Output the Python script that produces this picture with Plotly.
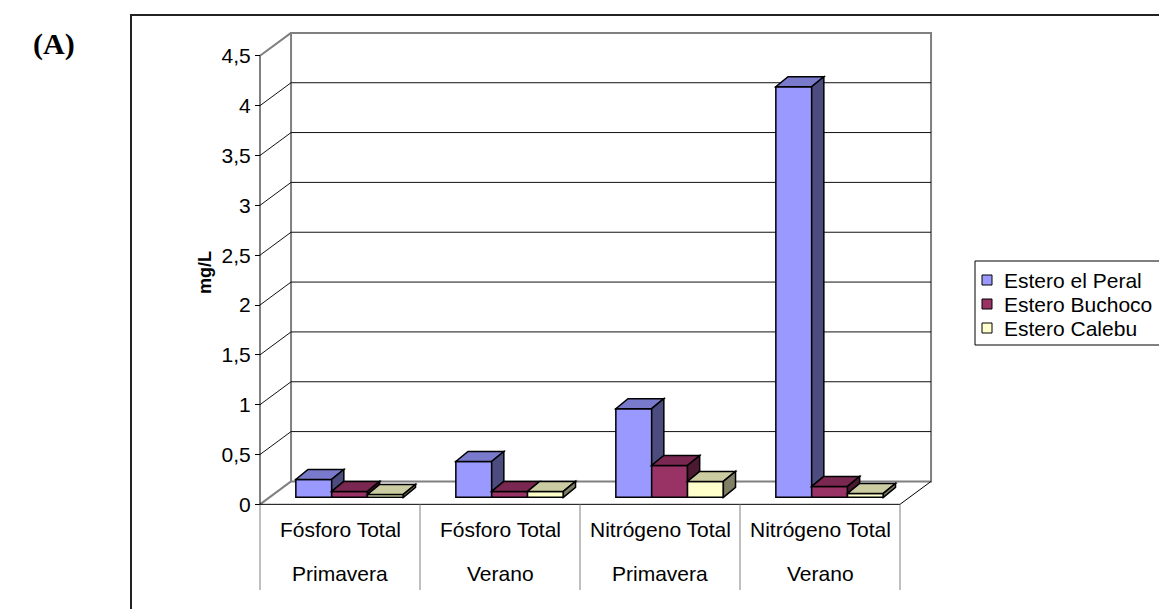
import plotly.graph_objects as go

# ---- data -------------------------------------------------------------
nutrients = ["Fósforo Total", "Fósforo Total", "Nitrógeno Total", "Nitrógeno Total"]
seasons = ["Primavera", "Verano", "Primavera", "Verano"]
series_names = ["Estero el Peral", "Estero Buchoco", "Estero Calebu"]
peral = [0.18, 0.36, 0.89, 4.12]
buchoco = [0.06, 0.06, 0.32, 0.11]
calebu = [0.03, 0.06, 0.16, 0.04]
tick_values = [0, 0.5, 1, 1.5, 2, 2.5, 3, 3.5, 4, 4.5]
tick_labels = ["0", "0,5", "1", "1,5", "2", "2,5", "3", "3,5", "4", "4,5"]

series_values = [peral, buchoco, calebu]
front_colors = ["#9999FF", "#993366", "#FFFFCC"]

# ---- 3-D look parameters (axis units) ----------------------------------
X_RANGE = [-0.875, 3.875]
Y_RANGE = [-1.05, 5.06]
WALL_DX, WALL_DY = 0.194, 0.23      # depth of the floor / side wall
PLANE_DX, PLANE_DY = 0.06, 0.07     # depth at which the columns stand
DEPTH_DX, DEPTH_DY = 0.076, 0.10    # column thickness
BAR_W = 0.224
FONT = "Liberation Sans, Arial, sans-serif"
GRAY = "#808080"
TEXT_SIZE = 21

# figure size / margins in pixels, used for paper-anchored decorations
FIG_W, FIG_H = 1159, 609
M_L, M_R = 200, 199
PLOT_W = FIG_W - M_L - M_R


def px_x(p):
    return (p - M_L) / PLOT_W


def px_y(p):
    return 1 - p / FIG_H


def shade(hex_color, k):
    r, g, b = (int(hex_color[i:i + 2], 16) for i in (1, 3, 5))
    return "#{:02X}{:02X}{:02X}".format(int(r * k), int(g * k), int(b * k))


def line(x0, y0, x1, y1, color, width, layer="below"):
    return dict(type="line", xref="x", yref="y", x0=x0, y0=y0, x1=x1, y1=y1,
                line=dict(color=color, width=width), layer=layer)


def poly(points, fill):
    path = "M " + " L ".join(f"{x},{y}" for x, y in points) + " Z"
    return dict(type="path", xref="x", yref="y", path=path, fillcolor=fill,
                line=dict(color="black", width=1.5), layer="above")


n_cat = len(nutrients)
x_left, x_right = -0.5, n_cat - 0.5
y_top = tick_values[-1]

shapes = []
# back wall
shapes.append(dict(type="rect", xref="x", yref="y",
                   x0=x_left + WALL_DX, x1=x_right + WALL_DX,
                   y0=WALL_DY, y1=y_top + WALL_DY,
                   line=dict(color=GRAY, width=2), layer="below"))
# gridlines on back wall and side wall
for v in tick_values[1:-1]:
    shapes.append(line(x_left + WALL_DX, v + WALL_DY, x_right + WALL_DX, v + WALL_DY, "#111", 1))
    shapes.append(line(x_left, v, x_left + WALL_DX, v + WALL_DY, "#111", 1))
# side wall top/bottom edges
shapes.append(line(x_left, y_top, x_left + WALL_DX, y_top + WALL_DY, GRAY, 2))
shapes.append(line(x_left, 0, x_left + WALL_DX, WALL_DY, GRAY, 2))
# floor front and right edges
shapes.append(line(x_left, 0, x_right, 0, "black", 1))
shapes.append(line(x_right, 0, x_right + WALL_DX, WALL_DY, "black", 1))
# front value axis
shapes.append(line(x_left, 0, x_left, y_top, "black", 1))
# category dividers
for k in range(n_cat + 1):
    shapes.append(line(x_left + k, 0, x_left + k, -0.86, GRAY, 1))

fig = go.Figure()
offsets = [PLANE_DX - 1.5 * BAR_W + j * BAR_W for j in range(len(series_values))]
for j, (name, vals, col) in enumerate(zip(series_names, series_values, front_colors)):
    fig.add_trace(go.Bar(
        x=list(range(n_cat)), y=vals, base=PLANE_DY, width=BAR_W, offset=offsets[j],
        name=name, marker=dict(color=col, line=dict(color="black", width=1.5)),
        hoverinfo="skip", showlegend=False,
    ))

# top and side faces of the columns, drawn left to right
for i in range(n_cat):
    for j, vals in enumerate(series_values):
        v = vals[i]
        xl = i + offsets[j]
        xr = xl + BAR_W
        t = PLANE_DY + v
        col = front_colors[j]
        shapes.append(poly([(xl, t), (xr, t), (xr + DEPTH_DX, t + DEPTH_DY),
                            (xl + DEPTH_DX, t + DEPTH_DY)], shade(col, 0.8)))
        nxt = series_values[j + 1][i] if j + 1 < len(series_values) else 0.0
        if nxt < v:
            lo = PLANE_DY + nxt
            shapes.append(poly([(xr, lo), (xr, t), (xr + DEPTH_DX, t + DEPTH_DY),
                                (xr + DEPTH_DX, lo + DEPTH_DY)], shade(col, 0.5)))

# outer frame of the chart
shapes.append(dict(type="rect", xref="paper", yref="paper",
                   x0=px_x(131), x1=1.4, y0=-0.3, y1=px_y(15),
                   line=dict(color="#222", width=2), fillcolor="rgba(0,0,0,0)", layer="above"))

annotations = []
for i in range(n_cat):
    annotations.append(dict(x=i, y=-0.25, xref="x", yref="y", text=nutrients[i],
                            showarrow=False, font=dict(size=TEXT_SIZE, color="black", family=FONT)))
    annotations.append(dict(x=i, y=-0.69, xref="x", yref="y", text=seasons[i],
                            showarrow=False, font=dict(size=TEXT_SIZE, color="black", family=FONT)))
annotations.append(dict(x=-0.845, y=2.33, xref="x", yref="y", text="<b>mg/L</b>",
                        textangle=-90, showarrow=False,
                        font=dict(size=18, color="black", family=FONT)))
annotations.append(dict(x=px_x(31), y=px_y(25), xref="paper", yref="paper",
                        text="<b>(A)</b>", showarrow=False,
                        font=dict(size=30, color="black",
                                  family="Liberation Serif, Times New Roman, serif")))

# legend box with a swatch and label per series
LEG_LEFT, LEG_TOP, LEG_BOTTOM = 975, 261, 345
ROW0, ROW_STEP = 280, 24
shapes.append(dict(type="rect", xref="paper", yref="paper",
                   x0=px_x(LEG_LEFT), x1=px_x(1175), y0=px_y(LEG_BOTTOM), y1=px_y(LEG_TOP),
                   line=dict(color="black", width=1), fillcolor="white", layer="above"))
for j, (name, col) in enumerate(zip(series_names, front_colors)):
    cy = ROW0 + j * ROW_STEP
    shapes.append(dict(type="rect", xref="paper", yref="paper",
                       x0=px_x(982), x1=px_x(992), y0=px_y(cy + 5), y1=px_y(cy - 5),
                       line=dict(color="black", width=1), fillcolor=col, layer="above"))
    annotations.append(dict(x=px_x(1002), y=px_y(cy), xref="paper", yref="paper",
                            xanchor="left", yanchor="middle", text=name, showarrow=False,
                            font=dict(size=TEXT_SIZE, color="black", family=FONT)))

axis_pos = (x_left - X_RANGE[0]) / (X_RANGE[1] - X_RANGE[0])

fig.update_layout(
    width=FIG_W, height=FIG_H,
    margin=dict(l=M_L, r=M_R, t=0, b=0, autoexpand=False),
    paper_bgcolor="white", plot_bgcolor="rgba(0,0,0,0)",
    barmode="overlay",
    separators=",.",
    showlegend=False,
    font=dict(family=FONT, size=TEXT_SIZE, color="black"),
    xaxis=dict(range=X_RANGE, visible=False, fixedrange=True),
    yaxis=dict(range=Y_RANGE, tickmode="array", tickvals=tick_values, ticktext=tick_labels,
               anchor="free", position=axis_pos, showgrid=False, zeroline=False,
               showline=False, ticks="outside", ticklen=5, tickcolor="black", tickwidth=1,
               tickfont=dict(size=TEXT_SIZE, family=FONT, color="black")),
    shapes=shapes,
    annotations=annotations,
)

fig.write_html("out.html")
